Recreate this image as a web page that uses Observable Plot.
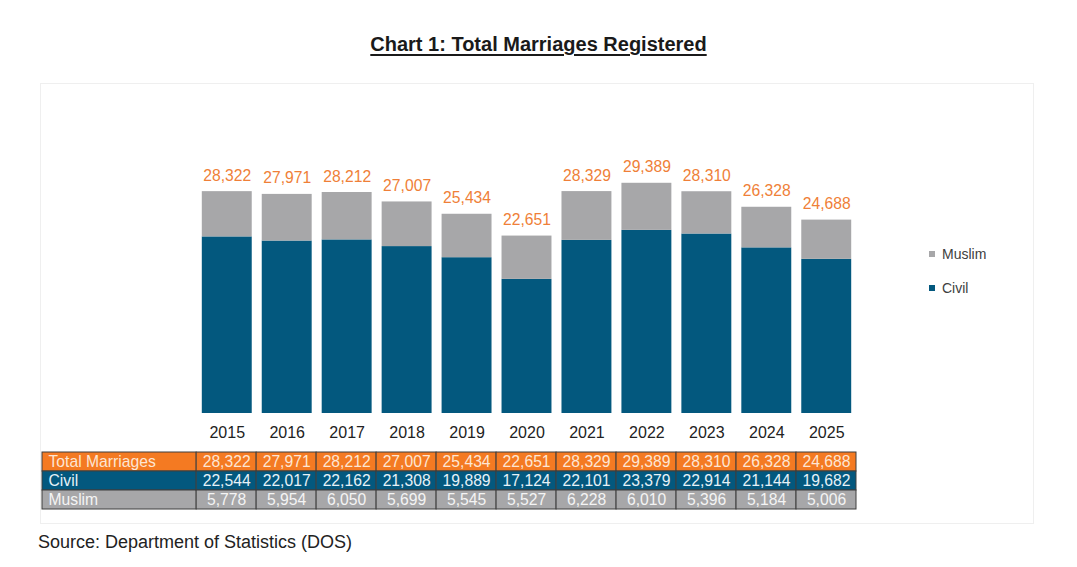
<!DOCTYPE html>
<html>
<head>
<meta charset="utf-8">
<script src="https://cdn.jsdelivr.net/npm/d3@7"></script>
<script src="https://cdn.jsdelivr.net/npm/@observablehq/plot@0.6"></script>
<style>
  html, body { margin: 0; padding: 0; background: #ffffff; }
  body { width: 1077px; height: 567px; position: relative; overflow: hidden;
         font-family: "Liberation Sans", Arial, sans-serif; }
  #title { position: absolute; left: 0; width: 1077px; top: 32px; line-height: 24px;
           text-align: center; font-size: 20px; font-weight: bold; color: #1a1a1a;
           text-decoration: underline; text-underline-offset: 3px; text-decoration-thickness: 1.5px; }
  #panel { position: absolute; left: 40px; top: 83px; width: 992px; height: 439px;
           border: 1px solid #efefef; }
  #bars { position: absolute; left: 0; top: 83px; }
  #table { position: absolute; left: 0; top: 446px; }
  #legend { position: absolute; left: 929px; top: 246px; }
  #legend [class$="-swatch"] { margin-bottom: 17px; }
  #source { position: absolute; left: 38px; top: 531px; line-height: 22px;
            font-size: 18px; color: #222222; }
</style>
</head>
<body>
<div id="title">Chart 1: Total Marriages Registered</div>
<div id="panel"></div>
<div id="bars"></div>
<div id="table"></div>
<div id="legend"></div>
<div id="source">Source: Department of Statistics (DOS)</div>
<script>
// Registered marriages by year and type
const years  = [2015, 2016, 2017, 2018, 2019, 2020, 2021, 2022, 2023, 2024, 2025];
const civil  = [22544, 22017, 22162, 21308, 19889, 17124, 22101, 23379, 22914, 21144, 19682];
const muslim = [5778, 5954, 6050, 5699, 5545, 5527, 6228, 6010, 5396, 5184, 5006];
const totals = [28322, 27971, 28212, 27007, 25434, 22651, 28329, 29389, 28310, 26328, 24688];
const types  = ["Muslim", "Civil"];
const rowNames = ["Total Marriages", "Civil", "Muslim"];

const BLUE = "#03587e";
const GRAY = "#a7a7a9";
const ORANGE = "#f47a22";
const FONT = "'Liberation Sans', Arial, sans-serif";
const fmt = d3.format(",");

// Long-form table for the stacked bars
const stacked = years.flatMap((year, i) => [
  {year, type: "Civil", value: civil[i]},
  {year, type: "Muslim", value: muslim[i]}
]);
const totalRows = years.map((year, i) => ({year, total: totals[i]}));

const bars = Plot.plot({
  width: 1077,
  height: 370,
  marginTop: 48,
  marginBottom: 40,
  marginLeft: 197,
  marginRight: 221,
  style: {fontFamily: FONT, background: "transparent"},
  x: {type: "band", domain: years, paddingInner: 0.167, paddingOuter: 0.08, round: false},
  y: {domain: [0, 36000], axis: null},
  color: {domain: types, range: [GRAY, BLUE]},
  marks: [
    Plot.barY(stacked, {x: "year", y: "value", fill: "type", order: ["Civil", "Muslim"]}),
    Plot.text(totalRows, {
      x: "year", y: "total", text: d => fmt(d.total),
      lineAnchor: "bottom", dy: -11, fontSize: 15.7, fill: "#ef7f38"
    }),
    Plot.axisX({
      tickSize: 0, tickPadding: 13, fontSize: 16, fill: "#222222",
      tickFormat: d => String(d), label: null
    })
  ]
});
document.getElementById("bars").append(bars);

const legend = Plot.legend({
  color: {domain: types, range: [GRAY, BLUE]},
  legend: "swatches",
  columns: 1,
  swatchSize: 6,
  style: {fontFamily: FONT, fontSize: "14px", color: "#404040"}
});
document.getElementById("legend").append(legend);

// Data table under the bars: one label column, then one column per year
const LABEL_SPAN = 2.57; // width of the label column, in year columns
const rowFill = {"Total Marriages": ORANGE, "Civil": BLUE, "Muslim": GRAY};
const rowText = {"Total Marriages": "#fde6d4", "Civil": "#e6f1f7", "Muslim": "#f4f4f4"};
const rowValues = {"Total Marriages": totals, "Civil": civil, "Muslim": muslim};

const labelCells = rowNames.map(row => ({row, x1: -LABEL_SPAN, x2: 0, text: row}));
const valueCells = rowNames.flatMap(row =>
  years.map((year, i) => ({row, x1: i, x2: i + 1, text: fmt(rowValues[row][i])}))
);

const table = Plot.plot({
  width: 1077,
  height: 68,
  marginTop: 5,
  marginBottom: 5,
  marginLeft: 42,
  marginRight: 221,
  style: {fontFamily: FONT, background: "transparent"},
  x: {domain: [-LABEL_SPAN, years.length], axis: null},
  y: {type: "band", domain: rowNames, padding: 0, axis: null},
  color: {type: "identity"},
  marks: [
    Plot.barX([...labelCells, ...valueCells], {
      x1: "x1", x2: "x2", y: "row", fill: d => rowFill[d.row],
      stroke: "#3e3e3e", strokeWidth: 1
    }),
    Plot.text(labelCells, {
      x: "x1", y: "row", text: "text", textAnchor: "start", dx: 6,
      fontSize: 15.7, fill: d => rowText[d.row]
    }),
    Plot.text(valueCells, {
      x: d => (d.x1 + d.x2) / 2, y: "row", text: "text",
      fontSize: 15.7, fill: d => rowText[d.row]
    })
  ]
});
document.getElementById("table").append(table);
</script>
</body>
</html>
